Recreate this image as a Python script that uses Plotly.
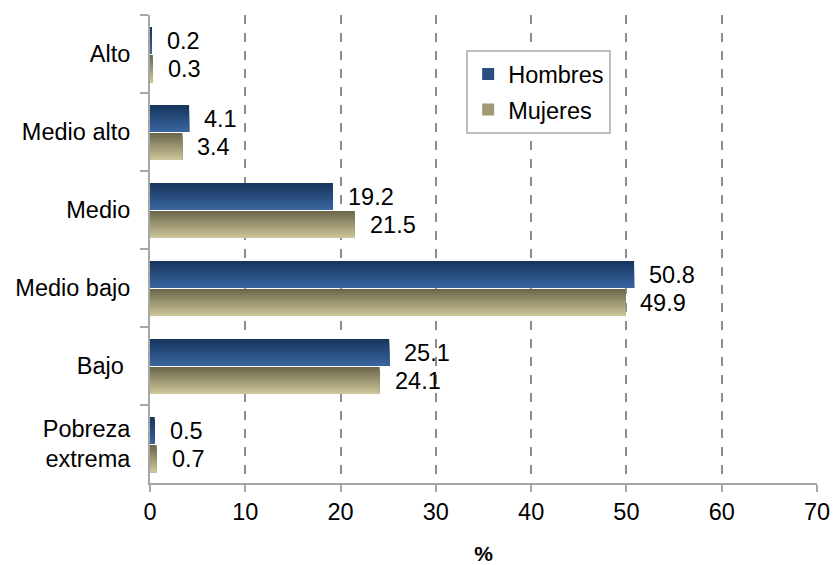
import plotly.graph_objects as go

categories = ["Alto", "Medio alto", "Medio", "Medio bajo", "Bajo\u00a0", "Pobreza<br>extrema"]
hombres = [0.2, 4.1, 19.2, 50.8, 25.1, 0.5]
mujeres = [0.3, 3.4, 21.5, 49.9, 24.1, 0.7]
series_names = ["Hombres", "Mujeres"]
x_ticks = [0, 10, 20, 30, 40, 50, 60, 70]

FONT = "Liberation Sans, Arial, sans-serif"
FS = 23.5
N = 14  # gradient strips


def lerp(c1, c2, t):
    a = [int(c1[i:i + 2], 16) for i in (1, 3, 5)]
    b = [int(c2[i:i + 2], 16) for i in (1, 3, 5)]
    return "rgb(%d,%d,%d)" % tuple(round(a[j] + (b[j] - a[j]) * t) for j in range(3))


styles = [
    dict(base=-0.346, w=0.346, top="#16355C", bot="#3A66A0"),
    dict(base=0.013, w=0.347, top="#6A654A", bot="#CEC79B"),
]

fig = go.Figure()
for s, (name, vals) in enumerate(zip(series_names, [hombres, mujeres])):
    st = styles[s]
    for k in range(N):
        off = st["base"] + k * st["w"] / N
        wid = st["w"] - k * st["w"] / N
        col = lerp(st["top"], st["bot"], (k + 0.5) / N)
        fig.add_trace(go.Bar(
            y=categories, x=vals, orientation="h",
            offset=off, width=wid,
            marker=dict(color=col, line=dict(width=0)),
            name=name, legendgroup=name,
            showlegend=(k == N // 2), legendrank=s + 1,
            hoverinfo="skip",
        ))
    for i, v in enumerate(vals):
        fig.add_annotation(
            x=v, y=i + st["base"] + st["w"] / 2, xref="x", yref="y",
            text=f"{v:.1f}", showarrow=False, xanchor="left", xshift=13,
            font=dict(family=FONT, size=FS, color="#000000"),
        )

fig.update_layout(
    width=839, height=565,
    margin=dict(l=150, r=22, t=15, b=82, autoexpand=False),
    paper_bgcolor="white", plot_bgcolor="white",
    barmode="overlay",
    font=dict(family=FONT, size=FS, color="#000000"),
    showlegend=True,
    legend=dict(
        x=0.474, y=0.925, xanchor="left", yanchor="top",
        bordercolor="#BFBFBF", borderwidth=2, bgcolor="white",
        font=dict(family=FONT, size=FS, color="#000000"),
        traceorder="grouped", tracegroupgap=2,
    ),
    xaxis=dict(
        range=[0, 70], tickvals=x_ticks, automargin=False,
        showgrid=True, gridcolor="#8C8C8C", griddash="dash", gridwidth=1.5,
        zeroline=False, showline=True, linecolor="#A6A6A6", linewidth=2,
        ticks="outside", ticklen=7, tickcolor="#A6A6A6", tickwidth=2,
        tickfont=dict(family=FONT, size=FS, color="#000000"),
        title=dict(text="<b>%</b>", font=dict(family=FONT, size=21, color="#000000"), standoff=22),
    ),
    yaxis=dict(
        type="category", range=[5.5, -0.5], automargin=False,
        tickson="boundaries", ticks="outside", ticklen=8,
        tickcolor="#A6A6A6", tickwidth=2,
        showline=True, linecolor="#A6A6A6", linewidth=2,
        showgrid=False, zeroline=False,
        ticklabelstandoff=13,
        tickfont=dict(family=FONT, size=FS, color="#000000"),
    ),
)

fig.write_html(
    "out.html",
    config={"displayModeBar": False},
    post_script="document.body.style.margin='0';document.body.style.overflow='hidden';",
)
